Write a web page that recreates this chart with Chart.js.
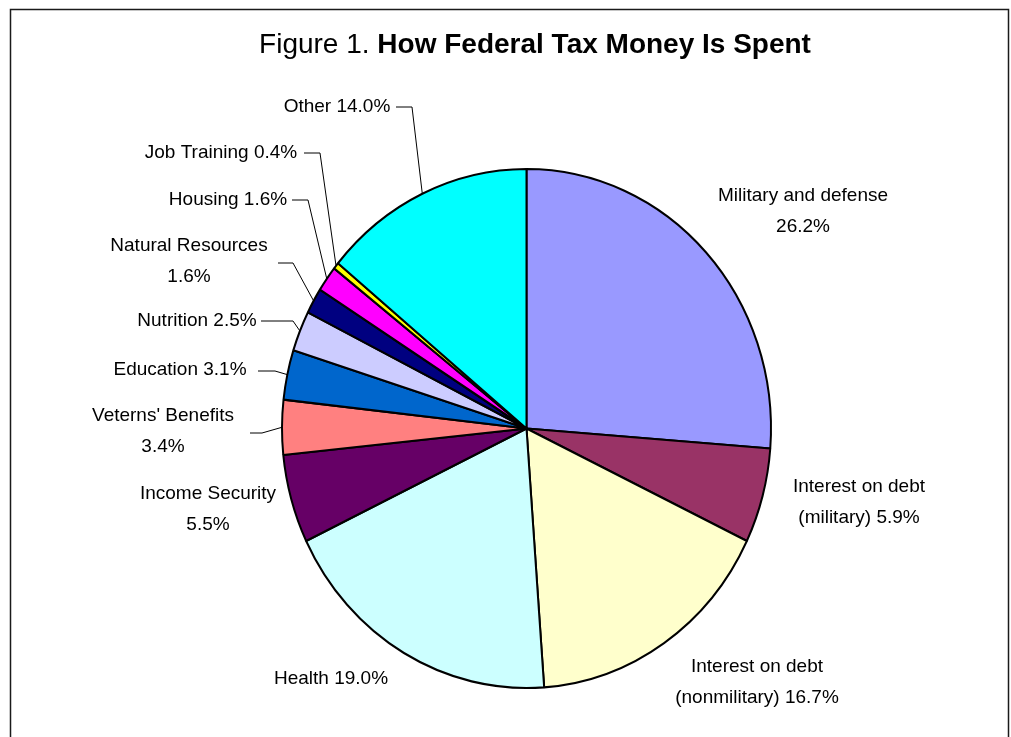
<!DOCTYPE html>
<html lang="en">
<head>
  <meta charset="UTF-8">
  <title>Figure 1. How Federal Tax Money Is Spent</title>
  <script src="https://cdn.jsdelivr.net/npm/chart.js@4.4.1/dist/chart.umd.min.js"></script>
  <style>
    html, body { margin: 0; padding: 0; background: #fff; }
    #wrap { position: relative; width: 1011px; height: 737px; }
  </style>
</head>
<body>
  <div id="wrap"><canvas id="myChart" width="1011" height="737"></canvas></div>
  <script>
    // data
    const categories = [
      'Military and defense', 'Interest on debt (military)', 'Interest on debt (nonmilitary)',
      'Health', 'Income Security', "Veterns' Benefits", 'Education', 'Nutrition',
      'Natural Resources', 'Housing', 'Job Training', 'Other'
    ];
    const shares = [26.2, 5.9, 16.7, 19.0, 5.5, 3.4, 3.1, 2.5, 1.6, 1.6, 0.4, 14.0];
    const sliceColors = [
      '#9999FF', '#993366', '#FFFFCC', '#CCFFFF', '#660066', '#FF8080',
      '#0066CC', '#CCCCFF', '#000080', '#FF00FF', '#FFFF00', '#00FFFF'
    ];
    const labelLines = [
      ['Military and defense', '26.2%'],
      ['Interest on debt', '(military) 5.9%'],
      ['Interest on debt', '(nonmilitary) 16.7%'],
      ['Health 19.0%'],
      ['Income Security', '5.5%'],
      ["Veterns' Benefits", '3.4%'],
      ['Education 3.1%'],
      ['Nutrition 2.5%'],
      ['Natural Resources', '1.6%'],
      ['Housing 1.6%'],
      ['Job Training 0.4%'],
      ['Other 14.0%']
    ];

    // where the labels sit: text block centre, optional leader [x0, y, x1]
    const labelPlace = [
      { at: [803, 211] },
      { at: [859, 502] },
      { at: [757, 682] },
      { at: [331, 679] },
      { at: [208, 509] },
      { at: [163, 431], leader: [250, 433, 262] },
      { at: [180, 370], leader: [258, 371, 275] },
      { at: [197, 321], leader: [261, 321, 293] },
      { at: [189, 261], leader: [278, 263, 293] },
      { at: [228, 200], leader: [292, 200, 308] },
      { at: [221, 153], leader: [304, 153, 320] },
      { at: [337, 107], leader: [396, 107, 412] }
    ];

    const stretchY = 259.5 / 244.5;
    const lineGap = 31;

    const ellipsePlugin = {
      id: 'ellipse',
      beforeDatasetsDraw(chart) {
        const arc = chart.getDatasetMeta(0).data[0];
        const ctx = chart.ctx;
        ctx.save();
        ctx.translate(arc.x, arc.y);
        ctx.scale(1, stretchY);
        ctx.translate(-arc.x, -arc.y);
      },
      afterDatasetsDraw(chart) {
        chart.ctx.restore();
      }
    };

    const labelsPlugin = {
      id: 'sliceLabels',
      afterDraw(chart) {
        const ctx = chart.ctx;
        const arcs = chart.getDatasetMeta(0).data;
        ctx.save();
        ctx.font = '19px "Liberation Sans", Arial, sans-serif';
        ctx.fillStyle = '#000';
        ctx.textAlign = 'center';
        ctx.textBaseline = 'middle';
        labelLines.forEach((lines, i) => {
          const p = labelPlace[i];
          const top = p.at[1] - (lines.length - 1) * lineGap / 2;
          lines.forEach((t, k) => ctx.fillText(t, p.at[0], top + k * lineGap));
          if (p.leader) {
            const a = arcs[i];
            const mid = (a.startAngle + a.endAngle) / 2;
            const ex = a.x + Math.cos(mid) * a.outerRadius;
            const ey = a.y + Math.sin(mid) * a.outerRadius * stretchY;
            ctx.beginPath();
            ctx.moveTo(p.leader[0], p.leader[1]);
            ctx.lineTo(p.leader[2], p.leader[1]);
            ctx.lineTo(ex, ey);
            ctx.strokeStyle = '#000';
            ctx.lineWidth = 1;
            ctx.stroke();
          }
        });

        // title, regular + bold parts
        const reg = 'Figure 1. ';
        const bold = 'How Federal Tax Money Is Spent';
        const regFont = '28px "Liberation Sans", Arial, sans-serif';
        const boldFont = 'bold 28px "Liberation Sans", Arial, sans-serif';
        ctx.font = regFont;
        const w1 = ctx.measureText(reg).width;
        ctx.font = boldFont;
        const w2 = ctx.measureText(bold).width;
        const x0 = 535 - (w1 + w2) / 2;
        ctx.textAlign = 'left';
        ctx.textBaseline = 'alphabetic';
        ctx.font = regFont;
        ctx.fillText(reg, x0, 53);
        ctx.font = boldFont;
        ctx.fillText(bold, x0 + w1, 53);

        // outer frame
        ctx.strokeStyle = '#1a1a1a';
        ctx.lineWidth = 1.5;
        ctx.strokeRect(10.5, 9.5, 998, 800);
        ctx.restore();
      }
    };

    const ctx = document.getElementById('myChart').getContext('2d');
    new Chart(ctx, {
      type: 'pie',
      data: {
        labels: categories,
        datasets: [{
          data: shares,
          backgroundColor: sliceColors,
          borderColor: '#000',
          borderWidth: 2
        }]
      },
      options: {
        responsive: false,
        animation: false,
        radius: 244.5,
        layout: { padding: { left: 42, right: 0, top: 120, bottom: 0 } },
        plugins: {
          legend: { display: false },
          tooltip: { enabled: false }
        }
      },
      plugins: [ellipsePlugin, labelsPlugin]
    });
  </script>
</body>
</html>
